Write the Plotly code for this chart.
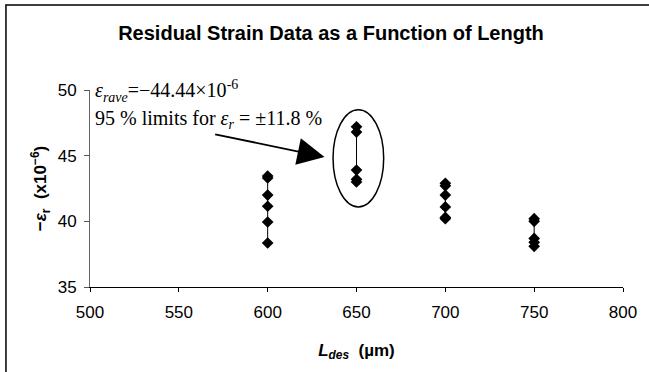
import plotly.graph_objects as go

# Data
lengths = [600, 650, 700, 750]
strain_600 = [43.45, 43.3, 42.0, 41.15, 39.95, 38.35]
strain_650 = [47.2, 46.8, 43.9, 43.2, 43.0]
strain_700 = [42.9, 42.7, 42.0, 41.1, 40.3, 40.2]
strain_750 = [40.2, 40.0, 38.7, 38.4, 38.1]
groups = [strain_600, strain_650, strain_700, strain_750]

x_ticks = [500, 550, 600, 650, 700, 750, 800]
y_ticks = [35, 40, 45, 50]

fig = go.Figure()
for L, vals in zip(lengths, groups):
    fig.add_trace(go.Scatter(
        x=[L] * len(vals), y=vals, mode="lines+markers",
        line=dict(color="black", width=1),
        marker=dict(symbol="diamond", size=9, color="black"),
        showlegend=False, hoverinfo="x+y"))

serif = "Liberation Serif, Times New Roman, serif"
sans = "Liberation Sans, Arial, sans-serif"

fig.update_layout(
    width=649, height=372,
    margin=dict(l=90, r=20, t=90, b=85),
    paper_bgcolor="white", plot_bgcolor="white",
    font=dict(family=sans, color="black", size=17),
    title=dict(text="<b>Residual Strain Data as a Function of Length</b>",
               x=0.51, xanchor="center", y=0.91, yanchor="middle",
               font=dict(size=20, family=sans, color="black")),
    xaxis=dict(range=[500, 800], tickvals=x_ticks, ticks="outside", ticklen=4,
               tickcolor="black", showline=True, linecolor="black", linewidth=1,
               showgrid=False, zeroline=False, tickfont=dict(size=17),
               ticklabelstandoff=6,
               title=dict(text="<b><i>L</i><sub><i>des</i></sub>  (µm)</b>",
                          font=dict(size=17), standoff=22)),
    yaxis=dict(range=[35, 50], tickvals=y_ticks, ticks="outside", ticklen=5,
               tickcolor="#555", showline=True, linecolor="#666", linewidth=1,
               showgrid=False, zeroline=False, tickfont=dict(size=17),
               ticklabelstandoff=4,
               title=dict(text="<b>−<i>ε</i><sub>r</sub>  (x10<sup>−6</sup>)</b>",
                          font=dict(size=17), standoff=6)),
    shapes=[
        dict(type="rect", xref="paper", yref="paper",
             x0=-85/539, x1=1.2, y0=-0.6, y1=1 + 85/197,
             line=dict(color="black", width=1.5), fillcolor="rgba(0,0,0,0)"),
        dict(type="circle", xref="x", yref="y",
             x0=636.8, x1=665.3, y0=41.1, y1=48.5,
             line=dict(color="black", width=1.5)),
    ],
    annotations=[
        dict(x=501.5, y=49.9, xref="x", yref="y", xanchor="left", yanchor="middle",
             showarrow=False,
             text="<i>ε</i><sub><i>rave</i></sub>=−44.44×10<sup>-6</sup>",
             font=dict(family=serif, size=20, color="black")),
        dict(x=501.5, y=47.75, xref="x", yref="y", xanchor="left", yanchor="middle",
             showarrow=False,
             text="95 % limits for <i>ε</i><sub><i>r</i></sub> = ±11.8 %",
             font=dict(family=serif, size=20, color="black")),
        dict(x=632.0, y=44.9, xref="x", yref="y", ax=569.6, ay=46.65,
             axref="x", ayref="y", showarrow=True, arrowhead=2, arrowsize=3,
             arrowwidth=1.8, arrowcolor="black", text=""),
    ],
)

fig.write_html("out.html", config={"displayModeBar": False},
               post_script="document.body.style.margin='0';")
